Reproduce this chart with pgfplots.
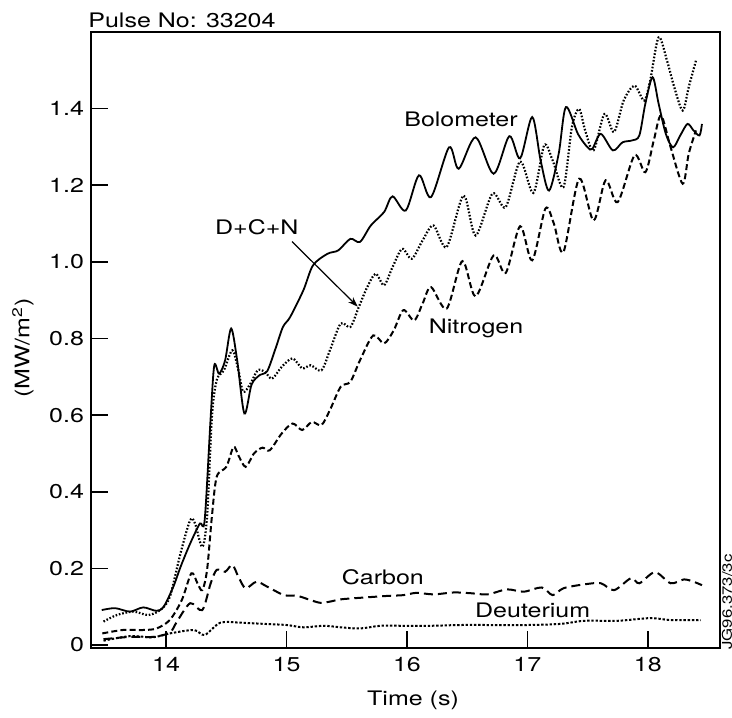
\documentclass[border=0pt]{standalone}
\usepackage{fontspec}
\setmainfont{TeX Gyre Heros}[FakeStretch=1.25]
\usepackage{pgfplots}
\pgfplotsset{compat=1.18}
\usetikzlibrary{arrows.meta}

\begin{document}
\begin{tikzpicture}[font=\fontsize{10}{12}\selectfont]
\begin{axis}[
  name=ax, at={(0,0)}, anchor=south west,
  scale only axis, width=314.5pt, height=308pt,
  xmin=13.376, xmax=18.60, ymin=-0.008, ymax=1.6,
  xtick={14,15,16,17,18},
  ytick={0,0.2,0.4,0.6,0.8,1.0,1.2,1.4},
  yticklabels={0,0.2,0.4,0.6,0.8,1.0,1.2,1.4},
  tick align=inside, tick pos=left, major tick length=8.5pt,
  axis line style={line width=0.8pt},
  tick style={line width=0.8pt, black},
  /pgf/number format/assume math mode=true,
  xticklabel style={yshift=-1pt},
  clip=false,
]
% Bolometer
\addplot[black, line width=0.9pt, smooth, tension=0.5] coordinates {
(13.465,0.091) (13.576,0.096) (13.70,0.087) (13.81,0.098) (13.92,0.089) (13.98,0.100)
(14.06,0.152) (14.12,0.204) (14.20,0.265) (14.28,0.317) (14.32,0.326) (14.37,0.595)
(14.40,0.730) (14.44,0.708) (14.49,0.743) (14.54,0.826) (14.59,0.743) (14.65,0.604)
(14.71,0.680) (14.78,0.705) (14.84,0.715) (14.91,0.775) (14.97,0.830) (15.03,0.856)
(15.14,0.926) (15.22,0.991) (15.34,1.021) (15.43,1.030) (15.53,1.060) (15.61,1.052)
(15.70,1.095) (15.81,1.130) (15.88,1.171) (15.99,1.134) (16.10,1.226) (16.20,1.169)
(16.35,1.299) (16.43,1.243) (16.57,1.325) (16.72,1.230) (16.85,1.328) (16.94,1.270)
(17.04,1.378) (17.11,1.265) (17.18,1.186) (17.26,1.282) (17.32,1.404) (17.42,1.334)
(17.50,1.299) (17.54,1.295) (17.61,1.334) (17.71,1.291) (17.79,1.312) (17.87,1.317)
(17.93,1.330) (17.98,1.413) (18.04,1.482) (18.09,1.413) (18.15,1.334) (18.21,1.299)
(18.27,1.330) (18.33,1.360) (18.38,1.343) (18.43,1.330) (18.45,1.360)
};
% D+C+N
\addplot[black, line width=1.1pt, smooth, tension=0.5, dash pattern=on 0.8pt off 0.9pt] coordinates {
(13.48,0.061) (13.59,0.078) (13.73,0.087) (13.85,0.078) (13.95,0.091) (14.03,0.125)
(14.12,0.240) (14.20,0.326) (14.24,0.317) (14.30,0.256) (14.34,0.335) (14.38,0.595)
(14.42,0.691) (14.48,0.717) (14.55,0.769) (14.60,0.717) (14.64,0.661) (14.70,0.682)
(14.76,0.717) (14.82,0.713) (14.88,0.695) (14.96,0.726) (15.05,0.748) (15.13,0.722)
(15.20,0.730) (15.29,0.717) (15.36,0.769) (15.45,0.839) (15.53,0.830) (15.60,0.882)
(15.67,0.934) (15.74,0.969) (15.81,0.939) (15.88,0.986) (15.96,1.034) (16.04,1.008)
(16.13,1.056) (16.22,1.095) (16.33,1.039) (16.47,1.173) (16.57,1.069) (16.71,1.178)
(16.82,1.143) (16.94,1.262) (17.05,1.180) (17.14,1.304) (17.21,1.265) (17.30,1.195)
(17.37,1.352) (17.43,1.399) (17.48,1.343) (17.55,1.291) (17.64,1.386) (17.72,1.339)
(17.80,1.421) (17.89,1.460) (17.97,1.421) (18.02,1.473) (18.09,1.586) (18.16,1.525)
(18.22,1.456) (18.29,1.395) (18.34,1.456) (18.40,1.525)
};
% Nitrogen
\addplot[black, line width=1pt, smooth, tension=0.5, dash pattern=on 3pt off 1.6pt] coordinates {
(13.47,0.030) (13.64,0.039) (13.81,0.039) (13.92,0.043) (14.03,0.065) (14.13,0.117)
(14.21,0.187) (14.26,0.161) (14.30,0.143) (14.34,0.196) (14.38,0.335) (14.42,0.439)
(14.50,0.465) (14.56,0.517) (14.60,0.495) (14.66,0.465) (14.73,0.500) (14.80,0.515)
(14.86,0.508) (14.96,0.552) (15.05,0.578) (15.13,0.561) (15.21,0.582) (15.29,0.574)
(15.36,0.613) (15.45,0.674) (15.53,0.687) (15.61,0.743) (15.72,0.808) (15.81,0.787)
(15.89,0.821) (15.97,0.874) (16.06,0.847) (16.13,0.891) (16.20,0.934) (16.33,0.878)
(16.46,1.002) (16.57,0.910) (16.72,1.017) (16.82,0.971) (16.94,1.093) (17.04,1.004)
(17.15,1.139) (17.22,1.100) (17.30,1.026) (17.43,1.217) (17.55,1.108) (17.65,1.213)
(17.75,1.156) (17.89,1.278) (17.98,1.234) (18.05,1.317) (18.11,1.382) (18.19,1.299)
(18.29,1.204) (18.34,1.282) (18.40,1.343)
};
% Carbon
\addplot[black, line width=1pt, smooth, tension=0.5, dash pattern=on 4.5pt off 2.5pt] coordinates {
(13.48,0.015) (13.70,0.021) (13.89,0.021) (14.03,0.032) (14.09,0.061) (14.20,0.109)
(14.30,0.091) (14.37,0.161) (14.42,0.196) (14.49,0.191) (14.55,0.209) (14.60,0.178)
(14.66,0.148) (14.75,0.165) (14.84,0.152) (14.98,0.130) (15.09,0.128) (15.20,0.117)
(15.28,0.110) (15.36,0.113) (15.45,0.119) (15.61,0.123) (15.84,0.128) (15.97,0.130)
(16.08,0.136) (16.22,0.132) (16.39,0.137) (16.53,0.135) (16.67,0.132) (16.83,0.145)
(16.97,0.139) (17.12,0.150) (17.21,0.130) (17.30,0.148) (17.47,0.158) (17.61,0.161)
(17.72,0.143) (17.86,0.174) (17.93,0.161) (18.06,0.190) (18.19,0.161) (18.30,0.171)
(18.38,0.165) (18.45,0.156)
};
% Deuterium
\addplot[black, line width=1pt, smooth, tension=0.5, dash pattern=on 1.2pt off 0.9pt] coordinates {
(13.48,0.011) (13.70,0.023) (13.89,0.020) (14.03,0.030) (14.23,0.039) (14.32,0.026)
(14.45,0.058) (14.62,0.058) (14.81,0.055) (15.00,0.052) (15.14,0.046) (15.31,0.050)
(15.45,0.046) (15.61,0.043) (15.78,0.050) (15.97,0.050) (16.20,0.050) (16.44,0.052)
(16.72,0.052) (17.00,0.052) (17.28,0.055) (17.47,0.063) (17.75,0.063) (18.02,0.070)
(18.19,0.065) (18.44,0.065)
};
\node at (axis cs:16.449,1.373) {Bolometer};
\node at (axis cs:14.753,1.091) {D+C+N};
\draw[black, line width=0.6pt, -{Stealth[length=5pt,width=3.5pt]}] (axis cs:15.045,1.053) -- (axis cs:15.591,0.883);
\node at (axis cs:16.574,0.825) {Nitrogen};
\node at (axis cs:15.80,0.178) {Carbon};
\node at (axis cs:17.044,0.091) {Deuterium};
\end{axis}
\node[anchor=base west, inner sep=0pt] at (-1.5pt,310pt) {Pulse No: 33204};
\node[rotate=90] at (-34pt,150pt) {(MW/m\textsuperscript{2})};
\node at (161pt,-26pt) {Time (s)};
\node[rotate=90, font=\fontsize{6.7}{8}\selectfont] at (318pt,23pt) {JG96.373/3c};
\pgfresetboundingbox
\path[use as bounding box] (-45.5pt,-34.5pt) rectangle (320.5pt,324pt);
\end{tikzpicture}
\end{document}
